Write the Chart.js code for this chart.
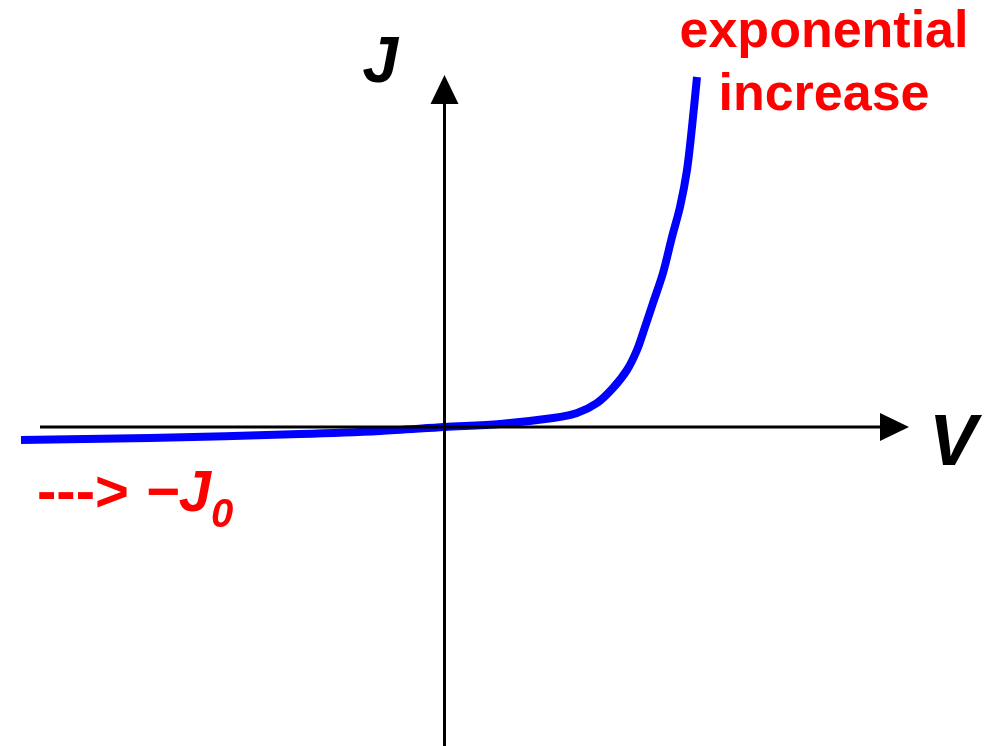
<!DOCTYPE html>
<html>
<head>
<meta charset="utf-8">
<title>Diode J-V curve</title>
<script src="https://cdn.jsdelivr.net/npm/chart.js@4.4.1/dist/chart.umd.min.js"></script>
<style>
  html, body { margin: 0; padding: 0; background: #ffffff; }
  canvas { display: block; }
</style>
</head>
<body>
<canvas id="jvChart" width="989" height="746"></canvas>
<script>
// Curve (arbitrary units, origin where the axes cross)
const voltage = [-4.235, -2.945, -1.445, -0.645, 0, 0.555, 1.085, 1.325, 1.525, 1.685, 1.825, 1.925, 2.005, 2.085, 2.185, 2.275, 2.355, 2.425, 2.475, 2.525];
const current = [-0.13, -0.11, -0.07, -0.04, 0.0, 0.03, 0.09, 0.14, 0.24, 0.39, 0.57, 0.77, 1.00, 1.24, 1.54, 1.90, 2.20, 2.57, 3.00, 3.50];

// Visible window and axis extents
const vRange = [-4.445, 5.445];
const jRange = [-3.19, 4.27];
const vAxisStart = -4.045;
const vAxisTip = 4.645;
const jAxisTip = 3.52;
const arrowLen = 0.29;

const labelFont = '"Liberation Sans", Arial, sans-serif';

// Draws the two arrowed axes and the text labels
const axesPlugin = {
    id: 'axesPlugin',
    afterDatasetsDraw(chart) {
        const ctx = chart.ctx;
        const xs = chart.scales.x;
        const ys = chart.scales.y;
        const x0 = xs.getPixelForValue(0);
        const y0 = ys.getPixelForValue(0);

        ctx.save();
        ctx.strokeStyle = '#000000';
        ctx.fillStyle = '#000000';
        ctx.lineWidth = 3;

        // V axis
        const xStart = xs.getPixelForValue(vAxisStart);
        const xTip = xs.getPixelForValue(vAxisTip);
        const xBase = xs.getPixelForValue(vAxisTip - arrowLen);
        ctx.beginPath();
        ctx.moveTo(xStart, y0);
        ctx.lineTo(xBase + 2, y0);
        ctx.stroke();
        ctx.beginPath();
        ctx.moveTo(xTip, y0);
        ctx.lineTo(xBase, y0 - 14);
        ctx.lineTo(xBase, y0 + 14);
        ctx.closePath();
        ctx.fill();

        // J axis
        const yTip = ys.getPixelForValue(jAxisTip);
        const yBase = ys.getPixelForValue(jAxisTip - arrowLen);
        ctx.beginPath();
        ctx.moveTo(x0, chart.chartArea.bottom);
        ctx.lineTo(x0, yBase - 2);
        ctx.stroke();
        ctx.beginPath();
        ctx.moveTo(x0, yTip);
        ctx.lineTo(x0 - 14, yBase);
        ctx.lineTo(x0 + 14, yBase);
        ctx.closePath();
        ctx.fill();

        // axis names
        ctx.textBaseline = 'alphabetic';
        ctx.textAlign = 'left';
        ctx.font = 'italic bold 64px ' + labelFont;
        ctx.fillText('J', x0 - 82, 82);
        ctx.font = 'italic bold 72px ' + labelFont;
        ctx.fillText('V', xTip + 20, 465);

        // red annotations
        ctx.fillStyle = '#ff0000';
        ctx.textAlign = 'center';
        ctx.font = 'bold 52px ' + labelFont;
        ctx.fillText('exponential', 824, 47);
        ctx.fillText('increase', 824, 110);

        ctx.textAlign = 'left';
        let tx = 37;
        ctx.font = 'bold 58px ' + labelFont;
        ctx.fillText('---> ', tx, 511);
        tx += ctx.measureText('---> ').width;
        ctx.font = 'italic bold 58px ' + labelFont;
        ctx.fillText('\u2212J', tx, 511);
        tx += ctx.measureText('\u2212J').width;
        ctx.font = 'italic bold 40px ' + labelFont;
        ctx.fillText('0', tx, 527);

        ctx.restore();
    }
};

const points = voltage.map((v, i) => ({ x: v, y: current[i] }));

new Chart(document.getElementById('jvChart').getContext('2d'), {
    type: 'line',
    data: {
        datasets: [{
            data: points,
            borderColor: '#0000ff',
            backgroundColor: 'transparent',
            borderWidth: 8,
            borderCapStyle: 'butt',
            borderJoinStyle: 'round',
            tension: 0.3,
            pointRadius: 0,
            fill: false,
            clip: false
        }]
    },
    options: {
        responsive: false,
        animation: false,
        events: [],
        layout: { padding: 0 },
        plugins: {
            legend: { display: false },
            tooltip: { enabled: false }
        },
        scales: {
            x: { type: 'linear', min: vRange[0], max: vRange[1], display: false },
            y: { type: 'linear', min: jRange[0], max: jRange[1], display: false }
        }
    },
    plugins: [axesPlugin]
});
</script>
</body>
</html>
